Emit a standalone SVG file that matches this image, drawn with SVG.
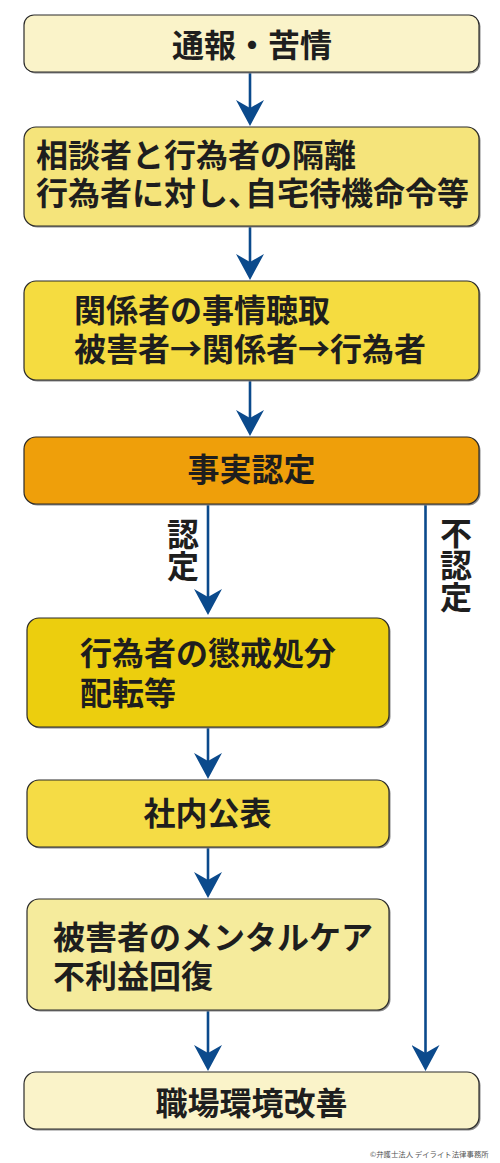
<svg xmlns="http://www.w3.org/2000/svg" width="500" height="1163" viewBox="0 0 500 1163">
<style>
.box{stroke:#2b2b2b;stroke-width:1.2}
.sh{fill:#8a8a8a}
.t{font-family:"Noto Sans CJK JP","Noto Sans CJK SC",sans-serif;font-weight:700;font-size:32px;fill:#1e1e1e}
.c{text-anchor:middle}
.v{writing-mode:vertical-rl}
.ln{stroke:#0b4a8c;stroke-width:2.6;fill:none}
.cp{font-family:"Noto Sans CJK JP",sans-serif;font-size:7.4px;fill:#555}
</style>
<defs>
<marker id="ah" markerUnits="userSpaceOnUse" markerWidth="26" markerHeight="28" viewBox="0 -14 26 28" refX="16" refY="0" orient="auto">
<path d="M0,-14 L26,0 L0,14 L8,0 Z" fill="#0b4a8c"/>
</marker>
</defs>
<rect width="500" height="1163" fill="#ffffff"/>
<g id="connectors">
<line class="ln" x1="250" y1="72" x2="250" y2="116" marker-end="url(#ah)"/>
<line class="ln" x1="250" y1="226" x2="250" y2="270" marker-end="url(#ah)"/>
<line class="ln" x1="250" y1="380" x2="250" y2="426" marker-end="url(#ah)"/>
<line class="ln" x1="208" y1="504" x2="208" y2="605" marker-end="url(#ah)"/>
<line class="ln" x1="208" y1="727" x2="208" y2="769" marker-end="url(#ah)"/>
<line class="ln" x1="208" y1="847" x2="208" y2="888" marker-end="url(#ah)"/>
<line class="ln" x1="208" y1="1010" x2="208" y2="1061" marker-end="url(#ah)"/>
<line class="ln" x1="425.5" y1="504" x2="425.5" y2="1061" marker-end="url(#ah)"/>
<text class="t v" x="183" y="518">認定</text>
<text class="t v" x="456" y="517">不認定</text>
</g>
<g id="n1">
<rect class="sh" x="25.5" y="16.5" width="455" height="57" rx="10"/>
<rect class="box" x="24" y="15" width="455" height="57" rx="10" fill="#faf3c9"/>
<text class="t c" x="252" y="57">通報・苦情</text>
</g>
<g id="n2">
<rect class="sh" x="25.5" y="128.5" width="455" height="99" rx="12"/>
<rect class="box" x="24" y="127" width="455" height="99" rx="12" fill="#f5e47b"/>
<text class="t" x="36" y="167">相談者と行為者の隔離<tspan x="36" y="205">行為者に対し、</tspan><tspan dx="-15">自宅待機命令等</tspan></text>
</g>
<g id="n3">
<rect class="sh" x="25.5" y="282.5" width="455" height="99" rx="12"/>
<rect class="box" x="24" y="281" width="455" height="99" rx="12" fill="#f5dc40"/>
<text class="t" x="74" y="322">関係者の事情聴取<tspan x="74" y="361">被害者→関係者→行為者</tspan></text>
</g>
<g id="n4">
<rect class="sh" x="25.5" y="438.5" width="455" height="67" rx="12"/>
<rect class="box" x="24" y="437" width="455" height="67" rx="12" fill="#ef9f0a"/>
<text class="t c" x="251.5" y="481">事実認定</text>
</g>
<g id="n5">
<rect class="sh" x="28.5" y="619.5" width="362" height="109" rx="12"/>
<rect class="box" x="27" y="618" width="362" height="109" rx="12" fill="#ecce0e"/>
<text class="t" x="80" y="665">行為者の懲戒処分<tspan x="80" y="705">配転等</tspan></text>
</g>
<g id="n6">
<rect class="sh" x="28.5" y="781.5" width="362" height="67" rx="12"/>
<rect class="box" x="27" y="780" width="362" height="67" rx="12" fill="#f5dc45"/>
<text class="t c" x="207.5" y="825">社内公表</text>
</g>
<g id="n7">
<rect class="sh" x="28.5" y="900.5" width="362" height="111" rx="12"/>
<rect class="box" x="27" y="899" width="362" height="111" rx="12" fill="#f5eb9c"/>
<text class="t" x="53" y="949">被害者のメンタルケア<tspan x="53" y="988">不利益回復</tspan></text>
</g>
<g id="n8">
<rect class="sh" x="25.5" y="1073.5" width="455" height="57" rx="12"/>
<rect class="box" x="24" y="1072" width="455" height="57" rx="12" fill="#faf3c9"/>
<text class="t c" x="251.5" y="1115">職場環境改善</text>
</g>
<text class="cp" x="370" y="1157">©弁護士法人 デイライト法律事務所</text>
</svg>
